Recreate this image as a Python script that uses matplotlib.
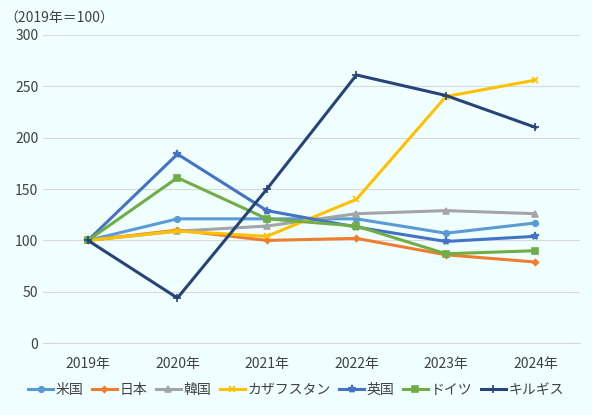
import matplotlib
matplotlib.use("Agg")
import matplotlib.pyplot as plt

plt.rcParams['font.family'] = ['Noto Sans CJK JP', 'DejaVu Sans']

years = ['2019年', '2020年', '2021年', '2022年', '2023年', '2024年']
series = {
    '米国': [100, 121, 121, 121, 107, 117],
    '日本': [100, 110, 100, 102, 86, 79],
    '韓国': [100, 109, 114, 126, 129, 126],
    'カザフスタン': [100, 109, 104, 140, 240, 256],
    '英国': [100, 184, 129, 113, 99, 104],
    'ドイツ': [100, 161, 121, 114, 87, 90],
    'キルギス': [100, 44, 150, 261, 241, 210],
}
colors = ['#5B9BD5', '#ED7D31', '#A5A5A5', '#FFC000', '#4472C4', '#70AD47', '#264478']
markers = ['o', 'D', '^', 'x', '*', 's', '+']
msizes = [4, 3, 4, 5, 6, 4, 6]

bg = '#F0FFFF'
fig = plt.figure(figsize=(5.92, 4.15), dpi=100, facecolor=bg)
ax = fig.add_axes([0.073, 0.173, 0.907, 0.743], facecolor=bg)
x = list(range(len(years)))
for (name, vals), c, m, s in zip(series.items(), colors, markers, msizes):
    ax.plot(x, vals, color=c, lw=2.2, marker=m, ms=s, mew=1.2, label=name)

ax.set_xlim(-0.5, 5.5)
ax.set_ylim(0, 300)
ax.set_yticks(range(0, 301, 50))
ax.set_xticks(x)
ax.set_xticklabels(years)
ax.grid(axis='y', color='#D9D9D9', lw=0.8)
ax.set_axisbelow(True)
for sp in ['top', 'right', 'left']:
    ax.spines[sp].set_visible(False)
ax.spines['bottom'].set_color('#D9D9D9')
ax.tick_params(length=0, labelsize=10, colors='#404040')
ax.tick_params(axis='x', pad=10)
fig.text(0.008, 0.955, '（2019年＝100）', fontsize=10, color='#404040', va='center')
fig.legend(loc='center', bbox_to_anchor=(0.5, 0.06), ncol=7, frameon=False,
           fontsize=10, handlelength=1.8, columnspacing=0.6, handletextpad=0.2,
           labelcolor='#404040')
fig.savefig('out.png', dpi=100, facecolor=bg)
